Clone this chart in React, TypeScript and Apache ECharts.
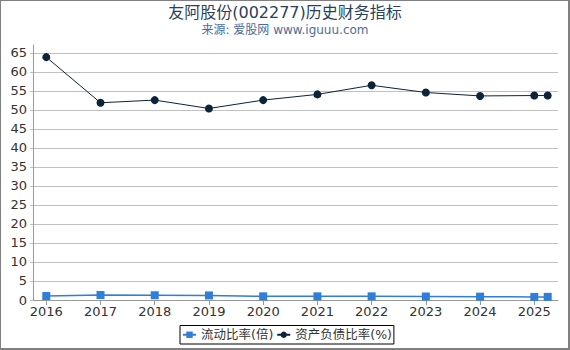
import React, { useEffect, useRef } from "react";
import * as echarts from "echarts";

const xYears = [2016, 2017, 2018, 2019, 2020, 2021, 2022, 2023, 2024, 2025, 2025.247];
const xTickYears = [2016, 2017, 2018, 2019, 2020, 2021, 2022, 2023, 2024, 2025];
const currentRatio = [1.05, 1.3, 1.25, 1.2, 0.96, 0.96, 0.96, 0.92, 0.88, 0.8, 0.82];
const debtRatio = [63.9, 51.9, 52.6, 50.4, 52.6, 54.1, 56.5, 54.6, 53.7, 53.8, 53.8];
const yTicks = [0, 5, 10, 15, 20, 25, 30, 35, 40, 45, 50, 55, 60, 65];
const titleText = "友阿股份(002277)历史财务指标";
const subtitleText = "来源: 爱股网 www.iguuu.com";

const FONT = "DejaVu Sans, 'Noto Sans CJK SC', sans-serif";

export default function App() {
  const ref = useRef<HTMLDivElement>(null);
  useEffect(() => {
    if (!ref.current) return;
    const chart = echarts.init(ref.current, undefined, { renderer: "svg" });
    chart.setOption({
      animation: false,
      backgroundColor: "#ffffff",
      grid: { left: 33, right: 12, top: 45, bottom: 50 },
      legend: {
        bottom: 6,
        left: 180,
        itemWidth: 13,
        itemHeight: 8,
        itemGap: 3,
        borderColor: "#000",
        borderWidth: 1,
        padding: [3, 2, 3, 2],
        textStyle: { fontFamily: FONT, fontSize: 12.5, color: "#333" },
        data: ["流动比率(倍)", "资产负债比率(%)"],
      },
      xAxis: {
        type: "value",
        min: 2015.755,
        max: 2025.437,
        axisLine: { show: true, lineStyle: { color: "#999" } },
        axisTick: { show: true, length: 5, customValues: xTickYears, lineStyle: { color: "#999" } },
        axisLabel: {
          customValues: xTickYears,
          formatter: (v: number) => String(Math.round(v)),
          fontFamily: FONT,
          fontSize: 13,
          color: "#333",
          margin: 5,
        },
        splitLine: { show: false },
      },
      yAxis: {
        type: "value",
        min: 0,
        max: 67.1,
        axisLine: { show: true, lineStyle: { color: "#999" } },
        axisTick: { show: true, length: 3, customValues: yTicks, lineStyle: { color: "#c0c0c0" } },
        axisLabel: {
          customValues: yTicks,
          fontFamily: FONT,
          fontSize: 13,
          color: "#333",
          margin: 6,
        },
        splitLine: { show: true, lineStyle: { color: "#c0c0c0", width: 1 } },
      },
      series: [
        {
          name: "流动比率(倍)",
          type: "line",
          data: xYears.map((x, i) => [x, currentRatio[i]]),
          symbol: "rect",
          symbolSize: 8,
          itemStyle: { color: "#2f7ed8" },
          lineStyle: { color: "#2f7ed8", width: 1.5 },
        },
        {
          name: "资产负债比率(%)",
          type: "line",
          data: xYears.map((x, i) => [x, debtRatio[i]]),
          symbol: "circle",
          symbolSize: 8,
          itemStyle: { color: "#0d233a" },
          lineStyle: { color: "#0d233a", width: 1 },
        },
      ],
      graphic: [
        {
          type: "text",
          x: 285,
          y: 12,
          style: {
            text: titleText,
            fontFamily: FONT,
            fontSize: 16,
            fill: "#2b3f5c",
            align: "center",
            verticalAlign: "middle",
          },
        },
        {
          type: "text",
          x: 285,
          y: 30,
          style: {
            text: subtitleText,
            fontFamily: FONT,
            fontSize: 12,
            fill: "#4b6d9b",
            align: "center",
            verticalAlign: "middle",
          },
        },
        { type: "rect", shape: { x: 0, y: 0, width: 570, height: 1 }, style: { fill: "#808080" } },
        { type: "rect", shape: { x: 0, y: 0, width: 1, height: 350 }, style: { fill: "#808080" } },
        { type: "rect", shape: { x: 568, y: 0, width: 2, height: 350 }, style: { fill: "#808080" } },
        { type: "rect", shape: { x: 0, y: 348, width: 570, height: 2 }, style: { fill: "#808080" } },
      ],
    });
    return () => chart.dispose();
  }, []);
  return (
    <div
      ref={ref}
      style={{ position: "fixed", left: 0, top: 0, width: 570, height: 350 }}
    />
  );
}
